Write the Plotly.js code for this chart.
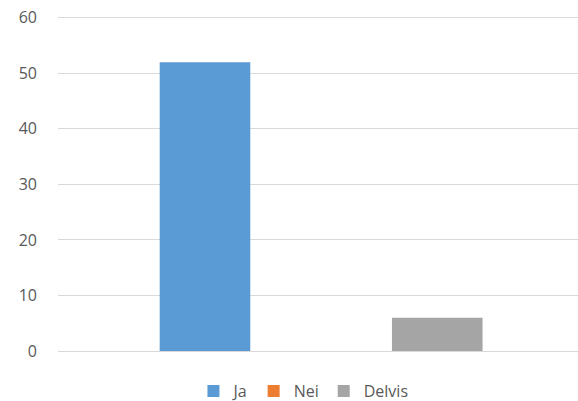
<!DOCTYPE html>
<html><head><meta charset="utf-8">
<script src="https://cdn.plot.ly/plotly-3.0.1.min.js"></script>
<style>html,body{margin:0;padding:0;background:#fff}#c{width:578px;height:401px}</style>
</head><body><div id="c"></div>
<script>
const categories = [""];
const seriesNames = ["Ja", "Nei", "Delvis"];
const jaValues = [52];
const neiValues = [0];
const delvisValues = [6];
const colors = ["#5B9BD5", "#ED7D31", "#A5A5A5"];
const yTicks = [0, 10, 20, 30, 40, 50, 60];

const vals = [jaValues, neiValues, delvisValues];
const data = seriesNames.map((n, i) => ({
  type: "bar", name: n, x: categories, y: vals[i],
  marker: {color: colors[i]}, hoverinfo: "none"
}));

Plotly.newPlot("c", data, {
  width: 578, height: 401,
  margin: {l: 58, r: 0, t: 15, b: 50},
  paper_bgcolor: "#fff", plot_bgcolor: "#fff",
  font: {family: "Open Sans, Liberation Sans, sans-serif", size: 16, color: "#595959"},
  barmode: "group", bargap: 0.33, bargroupgap: 0.22,
  xaxis: {range: [-0.506, 0.494], showticklabels: false, showgrid: false, zeroline: false, showline: false, fixedrange: true},
  yaxis: {range: [0, 60.5], tickvals: yTicks, ticktext: yTicks.map(String),
    showgrid: true, gridcolor: "#d9d9d9", gridwidth: 1, zeroline: true, zerolinecolor: "#d9d9d9",
    showline: false, ticks: "", ticklabelstandoff: 20, tickfont: {size: 16, color: "#595959"}, fixedrange: true},
  legend: {orientation: "h", xref: "container", yref: "container", x: 0.525, xanchor: "center",
    y: 0.025, yanchor: "middle", font: {size: 16, color: "#595959"}, itemwidth: 30, traceorder: "normal"},
  showlegend: true
}, {displayModeBar: false, staticPlot: true});
</script></body></html>
